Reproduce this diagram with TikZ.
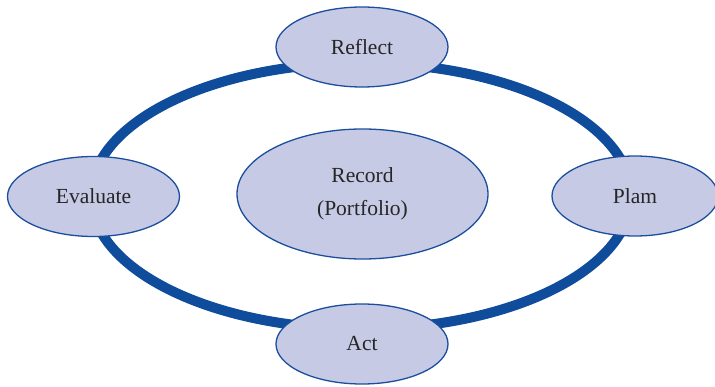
\documentclass[tikz,border=0pt]{standalone}
\usepackage{fontspec}
\setmainfont{Liberation Serif}
\usetikzlibrary{shapes.geometric}
\definecolor{ringblue}{HTML}{0F4C9B}
\definecolor{nodeblue}{HTML}{1B4F9E}
\definecolor{nodefill}{HTML}{C6CAE5}
\definecolor{textgray}{HTML}{262626}
\begin{document}
\begin{tikzpicture}[x=1pt,y=1pt,every node/.style={font=\fontsize{21.5}{33}\selectfont,text=textgray},
   stage/.style={ellipse,draw=nodeblue,line width=1.3pt,fill=nodefill,inner sep=0pt,minimum width=172pt,minimum height=80pt}]
   \useasboundingbox (0,0) rectangle (715,386);
   \draw [ringblue,line width=10pt] (361,190) ellipse (270 and 133);
   \node [stage] (reflect) at (362,339) {Reflect};
   \node [stage] (evaluate) at (93.5,189.5) {Evaluate};
   \node [stage,minimum width=166pt] (plam) at (635,190) {Plam};
   \node [stage] (act) at (362,42) {Act};
   \node [stage,align=center,minimum width=251pt,minimum height=130pt] (record) at (362.5,192) {Record\\(Portfolio)};
  \end{tikzpicture}
\end{document}
